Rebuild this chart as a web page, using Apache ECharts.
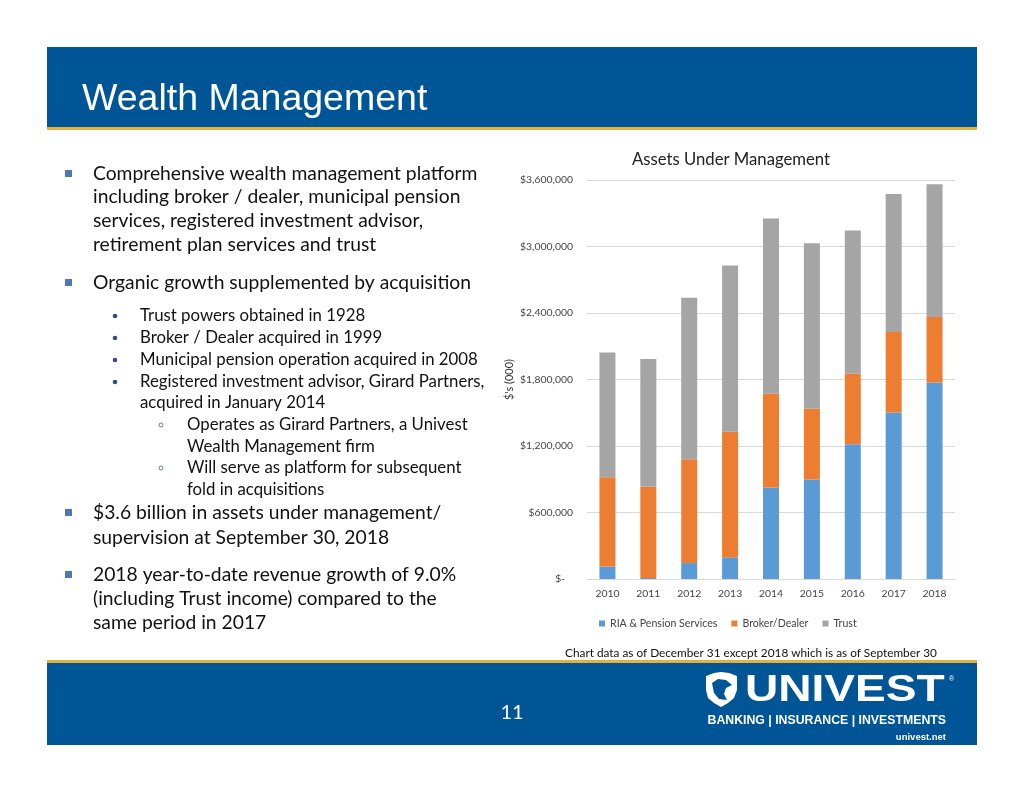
<!DOCTYPE html>
<html><head><meta charset="utf-8">
<script src="https://cdn.jsdelivr.net/npm/echarts@6/dist/echarts.min.js"></script>
<style>html,body{margin:0;padding:0;background:#fff}#c{width:1024px;height:791px}</style>
</head><body><div id="c"></div>
<script>
const years = ['2010','2011','2012','2013','2014','2015','2016','2017','2018'];
const riaPension = [113000, 9000, 144000, 195000, 825000, 897000, 1215000, 1503000, 1773000];
const brokerDealer = [805000, 824000, 936000, 1134000, 846000, 639000, 636000, 726000, 591000];
const trust = [1125000, 1152000, 1458000, 1500000, 1581000, 1494000, 1293000, 1245000, 1197000];
const yTicks = [0, 600000, 1200000, 1800000, 2400000, 3000000, 3600000];
const seriesNames = ['RIA & Pension Services', 'Broker/Dealer', 'Trust'];

const BLUE = '#005596', GOLD = '#E2B33C';
const body = 'Lato, "Open Sans", sans-serif';
const arial = '"Liberation Sans", Arial, sans-serif';
function txt(t, x, y, size, opts) {
  opts = opts || {};
  return { type: 'text', silent: true, z: 10,
    style: { text: t, x: x, y: y, fontSize: size, fontFamily: opts.family || body,
      fontWeight: opts.weight || 'normal', fill: opts.fill || '#111',
      align: opts.align || 'left', verticalAlign: 'middle' } };
}
const logoWord = txt('UNIVEST', 0, 0, 36, { family: arial, weight: 'bold', fill: '#fff' });
logoWord.x = 745; logoWord.y = 691; logoWord.scaleX = 1.28;
const g = [
  { type: 'rect', shape: { x: 47, y: 47, width: 930, height: 80 }, style: { fill: BLUE }, z: 1 },
  { type: 'rect', shape: { x: 47, y: 127, width: 930, height: 3 }, style: { fill: GOLD }, z: 1 },
  { type: 'rect', shape: { x: 47, y: 660, width: 930, height: 3 }, style: { fill: GOLD }, z: 1 },
  { type: 'rect', shape: { x: 47, y: 663, width: 930, height: 82 }, style: { fill: BLUE }, z: 1 },
  txt('Wealth Management', 82, 100, 37.5, { family: arial, fill: '#fff' }),
  txt('11', 512, 713, 20, { fill: '#fff', align: 'center' }),
  // logo
  { type: 'polygon', z: 10, shape: { points: [[706,676],[714,673],[721,672],[729,673],[737,676],[737,690],[734,698],[728,703],[721,707],[714,703],[708,698],[706,690]] }, style: { fill: '#fff' } },
  { type: 'polygon', z: 11, shape: { points: [[712,683],[718,679],[726,680],[732,685],[726,688],[724,694],[727,700],[719,699],[714,693]] }, style: { fill: BLUE } },
  logoWord,
  txt('®', 949, 679, 7, { family: arial, fill: '#fff' }),
  txt('BANKING | INSURANCE | INVESTMENTS', 946, 721, 12.3, { family: arial, weight: 'bold', fill: '#fff', align: 'right' }),
  txt('univest.net', 946, 737, 9.5, { family: arial, weight: 'bold', fill: '#fff', align: 'right' }),
  // chart annotations
  txt('Assets Under Management', 731, 160, 16.7, { fill: '#222', align: 'center' }),
  txt('Chart data as of December 31 except 2018 which is as of September 30', 751, 653, 11.8, { fill: '#111', align: 'center' })
];
// bullets
const sq = (y) => ({ type: 'rect', z: 10, shape: { x: 65, y: y - 4, width: 7, height: 7 }, style: { fill: '#4F76B5' } });
const dot = (y) => ({ type: 'circle', z: 10, shape: { cx: 115, cy: y, r: 2.3 }, style: { fill: '#2D4E8C' } });
const ring = (y) => ({ type: 'circle', z: 10, shape: { cx: 161, cy: y, r: 2 }, style: { fill: 'none', stroke: '#5A6F96', lineWidth: 0.9 } });
const M = 19.3, S = 16.8;
[174, 283, 513, 575].forEach(y => g.push(sq(y)));
[316, 338, 360, 382].forEach(y => g.push(dot(y)));
[425, 468].forEach(y => g.push(ring(y)));
[
  ['Comprehensive wealth management platform', 93, 174, M],
  ['including broker / dealer, municipal pension', 93, 197, M],
  ['services, registered investment advisor,', 93, 221, M],
  ['retirement plan services and trust', 93, 245, M],
  ['Organic growth supplemented by acquisition', 93, 283, M],
  ['Trust powers obtained in 1928', 140, 316, S],
  ['Broker / Dealer acquired in 1999', 140, 338, S],
  ['Municipal pension operation acquired in 2008', 140, 360, S],
  ['Registered investment advisor, Girard Partners,', 140, 382, S],
  ['acquired in January 2014', 140, 403, S],
  ['Operates as Girard Partners, a Univest', 187, 425, S],
  ['Wealth Management firm', 187, 447, S],
  ['Will serve as platform for subsequent', 187, 468, S],
  ['fold in acquisitions', 187, 490, S],
  ['$3.6 billion in assets under management/', 93, 513, M],
  ['supervision at September 30, 2018', 93, 538, M],
  ['2018 year-to-date revenue growth of 9.0%', 93, 575, M],
  ['(including Trust income) compared to the', 93, 599, M],
  ['same period in 2017', 93, 623, M]
].forEach(a => g.push(txt(a[0], a[1], a[2], a[3])));

const chart = echarts.init(document.getElementById('c'), null, { renderer: 'canvas' });
const colors = ['#5B9BD5', '#ED7D31', '#A5A5A5'];
const dataArr = [riaPension, brokerDealer, trust];
chart.setOption({
  animation: false,
  color: colors,
  graphic: g,
  grid: { left: 587, right: 69, top: 180, bottom: 212, containLabel: false },
  legend: {
    data: seriesNames, left: 594, top: 613, itemWidth: 6, itemHeight: 6, icon: 'rect', itemGap: 14,
    textStyle: { fontSize: 10.6, color: '#444', fontFamily: body }
  },
  xAxis: {
    type: 'category', data: years,
    axisLine: { lineStyle: { color: '#D9D9D9' } }, axisTick: { show: false },
    axisLabel: { fontSize: 10.4, color: '#444', fontFamily: body, margin: 10 }
  },
  yAxis: {
    type: 'value', min: 0, max: yTicks[yTicks.length - 1], interval: yTicks[1] - yTicks[0],
    name: "$'s (000)", nameLocation: 'middle', nameGap: 72,
    nameTextStyle: { fontSize: 11, color: '#333', fontFamily: body },
    axisLine: { show: false }, axisTick: { show: false },
    splitLine: { lineStyle: { color: '#D9D9D9' } },
    axisLabel: { fontSize: 10.4, color: '#444', fontFamily: body, margin: 14,
      formatter: v => v === 0 ? '$-   ' : '$' + v.toLocaleString('en-US') }
  },
  series: seriesNames.map((n, i) => ({
    name: n, type: 'bar', stack: 'aum', data: dataArr[i], barWidth: 16
  }))
});
</script></body></html>
